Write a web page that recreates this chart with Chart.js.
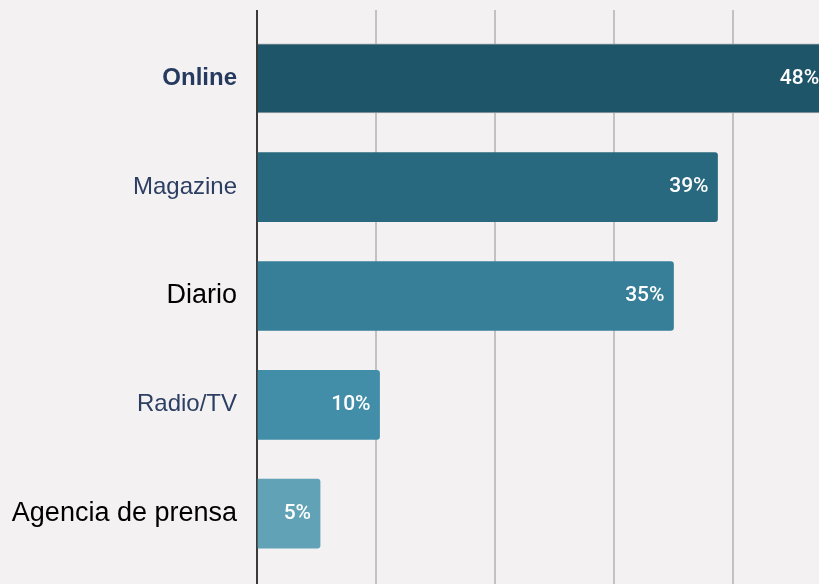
<!DOCTYPE html>
<html>
<head>
<meta charset="utf-8">
<script src="https://cdn.jsdelivr.net/npm/chart.js@4"></script>
<style>
  html, body { margin:0; padding:0; background:#f3f1f2; overflow:hidden; }
  #wrap { width:860px; height:584px; }
</style>
</head>
<body>
<div id="wrap"><canvas id="chart"></canvas></div>
<script>
const categories = ['Online', 'Magazine', 'Diario', 'Radio/TV', 'Agencia de prensa'];
const shares = [48, 38.7, 35, 10.3, 5.3];
const tickValues = [0, 10, 20, 30, 40, 50];

const barColors = ['#1f5568', '#28697f', '#377f98', '#428ea9', '#62a2b6'];
const labelFonts = [
  {family:'"Liberation Sans", Arial, sans-serif', size:24, weight:'bold'},
  {family:'"Liberation Sans", Arial, sans-serif', size:24, weight:'normal'},
  {family:'"Liberation Sans", Arial, sans-serif', size:27, weight:'normal'},
  {family:'"Liberation Sans", Arial, sans-serif', size:24, weight:'normal'},
  {family:'"Liberation Sans", Arial, sans-serif', size:27, weight:'normal'}
];
const labelColors = ['#253a5e', '#2c3f63', '#000000', '#2c3f63', '#000000'];

const gridColor = ctx => (ctx.tick && ctx.tick.value === 0) ? '#3a3a3a' : '#c2c2c2';

// white % labels inside the bar end
const barLabels = {
  id: 'barLabels',
  afterDatasetsDraw(chart){
    const c = chart.ctx;
    const meta = chart.getDatasetMeta(0);
    c.save();
    c.font = '500 21px Roboto, "Noto Sans", sans-serif';
    c.fillStyle = '#ffffff';
    c.textAlign = 'right';
    c.textBaseline = 'middle';
    meta.data.forEach((bar, i) => {
      c.fillText(Math.round(shares[i]) + '%', bar.x - 9, bar.y);
    });
    c.restore();
  }
};

new Chart(document.getElementById('chart'), {
  type: 'bar',
  data: {
    labels: categories,
    datasets: [{
      data: shares,
      backgroundColor: barColors,
      borderColor: '#9aa3a7',
      borderWidth: ctx => ctx.dataIndex === 0 ? 1 : 0,
      borderRadius: ctx => ctx.dataIndex === 0 ? 0 : 3,
      borderSkipped: 'start',
      barThickness: 69
    }]
  },
  options: {
    indexAxis: 'y',
    responsive: true,
    maintainAspectRatio: false,
    animation: false,
    layout: { padding: { top: 10, right: 8, left: 0, bottom: 0 } },
    plugins: { legend: { display: false }, tooltip: { enabled: false } },
    scales: {
      x: {
        type: 'linear', position: 'bottom', min: 0, max: 50,
        afterBuildTicks: s => { s.ticks = tickValues.map(v => ({value: v})); },
        ticks: { display: false },
        grid: { color: gridColor, lineWidth: 2, tickLength: 16 },
        border: { display: false }
      },
      x2: {
        type: 'linear', position: 'top', min: 0, max: 50,
        afterBuildTicks: s => { s.ticks = tickValues.map(v => ({value: v})); },
        ticks: { display: false },
        grid: { color: gridColor, lineWidth: 2, tickLength: 14, drawOnChartArea: false },
        border: { display: false }
      },
      y: {
        afterFit: s => { s.width = 257; s.paddingTop = 0; s.paddingBottom = 0; },
        grid: { display: false, drawTicks: false },
        border: { display: false },
        ticks: {
          padding: 20,
          font: ctx => labelFonts[ctx.index],
          color: ctx => labelColors[ctx.index]
        }
      }
    }
  },
  plugins: [barLabels]
});
</script>
</body>
</html>
